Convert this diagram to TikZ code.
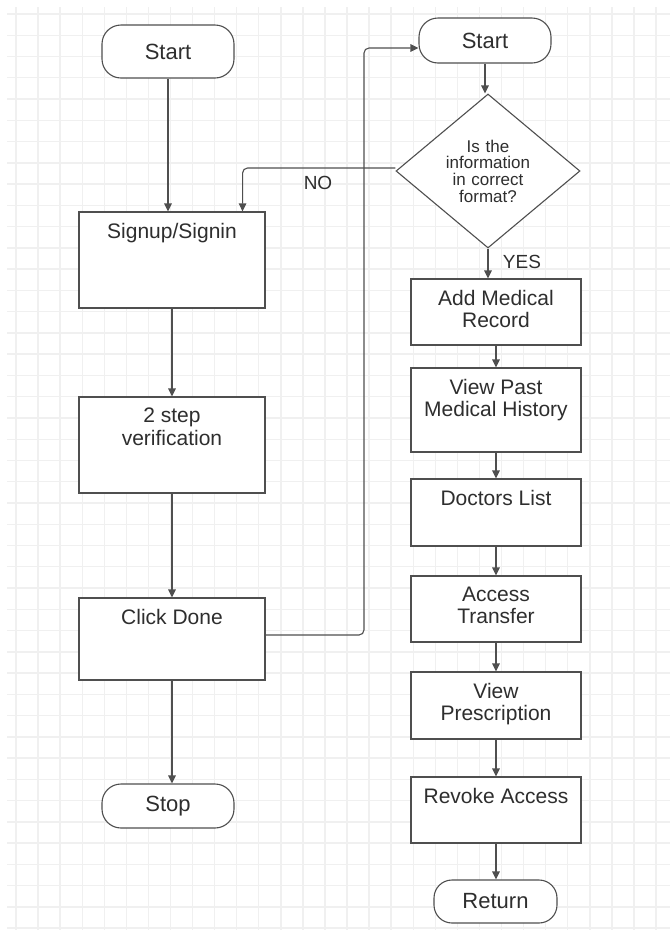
\documentclass[tikz,border=0pt]{standalone}
\usepackage{fontspec}
\setmainfont{Liberation Sans}
\usetikzlibrary{shapes.geometric,arrows.meta,calc}

\definecolor{linec}{HTML}{4F4F4F}
\definecolor{textc}{HTML}{2E2E2E}
\definecolor{gridc}{HTML}{F0F0F0}

% text sitting at the top of a process box
\newcommand{\toptext}[2]{\parbox[c][#1][t]{160pt}{\vspace*{11pt}\centering\strut #2}}

\tikzset{
  proc/.style={draw=linec, line width=1.1pt, fill=white, inner sep=0pt,
    text=textc, font=\fontsize{21}{20.5}\selectfont},
  term/.style={draw=linec, line width=1.1pt, fill=white, inner sep=0pt,
    rounded corners=19pt, text=textc, font=\fontsize{22}{24}\selectfont},
  decide/.style={draw=linec, line width=1.1pt, fill=white, diamond, inner sep=0pt,
    minimum width=184pt, minimum height=154pt, text width=90pt, align=center,
    text=textc, font=\fontsize{17}{16.7}\selectfont},
  flow/.style={draw=linec, line width=1.1pt, -{Triangle[length=8pt,width=7.5pt]}},
  tag/.style={text=textc, font=\fontsize{19}{20}\selectfont, inner sep=0pt}
}

\begin{document}
\begin{tikzpicture}[x=1pt,y=-1pt]
  \useasboundingbox (0,0) rectangle (670,930);
  \fill[white] (0,0) rectangle (670,930);

  % background grid
  \begin{scope}
    \clip (7,7) rectangle (670,930);
    \foreach \i in {0,...,30} {
      \draw[gridc, line width=1.4pt] ({16+22.07*\i},0) -- ({16+22.07*\i},930);
    }
    \foreach \j in {0,...,43} {
      \draw[gridc, line width=1.4pt] (0,{14+21.26*\j}) -- (670,{14+21.26*\j});
    }
  \end{scope}

  % left column
  \node[term, minimum width=132pt, minimum height=53pt] (s1) at (168,51.5) {Start};
  \node[proc, minimum width=186pt, minimum height=96pt] (signup) at (172,260) {\toptext{96pt}{Signup/Signin}};
  \node[proc, minimum width=186pt, minimum height=96pt] (verify) at (172,445) {\toptext{96pt}{2 step\\verification}};
  \node[proc, minimum width=186pt, minimum height=82pt] (click) at (172,639) {\toptext{82pt}{Click Done}};
  \node[term, minimum width=132pt, minimum height=44pt] (stop) at (168,806) {Stop};

  % right column
  \node[term, minimum width=132pt, minimum height=45pt] (s2) at (485,40.5) {Start};
  \node[decide] (check) at (488,171) {Is the\\information\\in correct\\format?};
  \node[proc, minimum width=170pt, minimum height=66pt] (add) at (496,312) {\toptext{66pt}{Add Medical\\Record}};
  \node[proc, minimum width=170pt, minimum height=84pt] (past) at (496,410) {\toptext{84pt}{View Past\\Medical History}};
  \node[proc, minimum width=170pt, minimum height=67pt] (docs) at (496,512.5) {\toptext{67pt}{Doctors List}};
  \node[proc, minimum width=170pt, minimum height=66pt] (access) at (496,609) {\toptext{66pt}{Access\\Transfer}};
  \node[proc, minimum width=170pt, minimum height=67pt] (presc) at (496,705.5) {\toptext{67pt}{View\\Prescription}};
  \node[proc, minimum width=170pt, minimum height=66pt] (revoke) at (496,810) {\toptext{66pt}{Revoke Access}};
  \node[term, minimum width=123pt, minimum height=43pt, rounded corners=18pt] (ret) at (495.5,901.5) {Return};

  % left connectors
  \draw[flow] (s1.south) -- (s1.south |- signup.north);
  \draw[flow] (signup.south) -- (verify.north);
  \draw[flow] (verify.south) -- (click.north);
  \draw[flow] (click.south) -- (click.south |- stop.north);

  % from Click Done up to the second Start
  \coordinate (bend) at (364,48);
  \draw[flow, rounded corners=5pt] ([yshift=4pt]click.east) -| (bend) -- (bend -| s2.west);

  % right connectors
  \draw[flow] (s2.south) -- (s2.south |- check.north);
  \draw[flow] (check.south) -- (check.south |- add.north);
  \draw[flow] (add.south) -- (past.north);
  \draw[flow] (past.south) -- (docs.north);
  \draw[flow] (docs.south) -- (access.north);
  \draw[flow] (access.south) -- (presc.north);
  \draw[flow] (presc.south) -- (revoke.north);
  \draw[flow] (revoke.south) -- (revoke.south |- ret.north);

  % NO branch back to Signup/Signin
  \coordinate (noend) at ([xshift=-23pt]signup.north east);
  \draw[flow, rounded corners=5pt] ([yshift=3pt]check.west) -| (noend);

  \node[tag] (nolbl) at (318,183) {NO};
  \node[tag] (yeslbl) at (522,262) {YES};
\end{tikzpicture}
\end{document}
